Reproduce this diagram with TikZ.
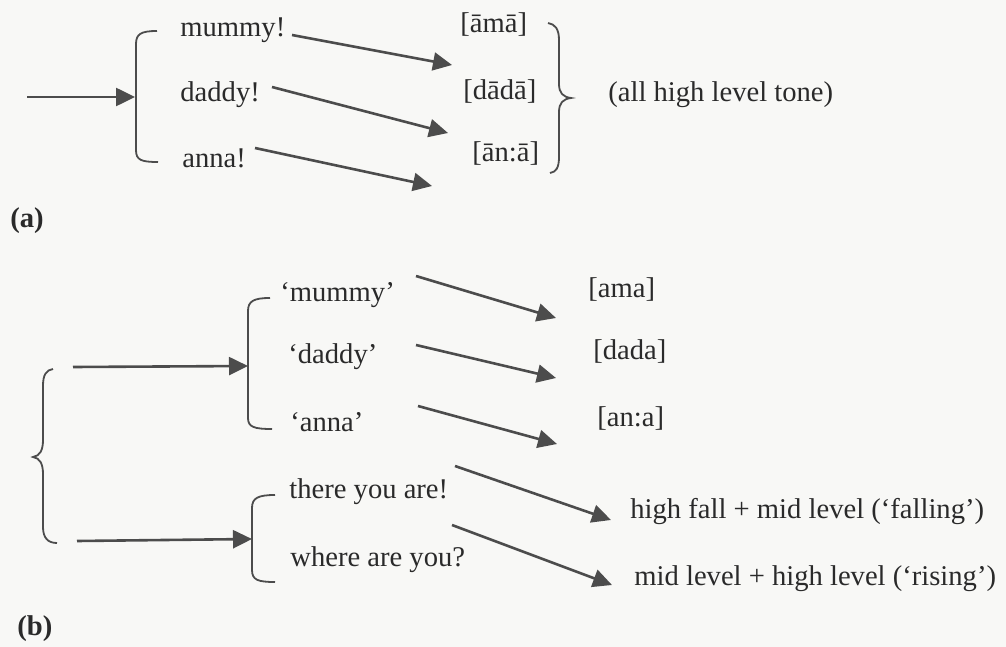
\documentclass[tikz,border=0pt]{standalone}
\usepackage{fontspec}
\setmainfont{Liberation Serif}
\usetikzlibrary{arrows.meta}
\definecolor{ink}{HTML}{2A2A2A}
\definecolor{arrowgray}{HTML}{4C4C4C}
\definecolor{paper}{HTML}{F8F8F6}
\tikzset{
  lbl/.style={anchor=west, inner sep=0pt, text=ink, font=\fontsize{14.3}{17}\selectfont, text height=0.7em, text depth=0.2em},
  tag/.style={lbl, font=\fontsize{14.3}{17}\selectfont\bfseries},
  arr/.style={draw=arrowgray, line width=1.3pt, -{Triangle[length=9.5pt,width=9pt]}, fill=none},
  brk/.style={draw=arrowgray, line width=0.9pt},
}
\begin{document}
\begin{tikzpicture}[x=0.5pt,y=-0.5pt]
\fill[paper] (0,0) rectangle (1006,647);
\useasboundingbox (0,0) rectangle (1006,647);

% ---------------- (a) ----------------
\coordinate (ain) at (27,97);
\coordinate (abr) at (135,97);
\draw[arr] (ain) -- (abr);
\draw[brk] (157,31) .. controls (141,31) and (136,34) .. (136,44) -- (136,150) .. controls (136,160) and (141,162) .. (158,162);

\node[lbl] (m1) at (180,32) {mummy!};
\node[lbl] (d1) at (180,97) {daddy!};
\node[lbl] (n1) at (182,163) {anna!};

\coordinate (m1s) at (292,35);  \coordinate (m1e) at (452,65);
\coordinate (d1s) at (272,87);  \coordinate (d1e) at (448,133);
\coordinate (n1s) at (255,148); \coordinate (n1e) at (432,186);
\draw[arr] (m1s) -- (m1e);
\draw[arr] (d1s) -- (d1e);
\draw[arr] (n1s) -- (n1e);

\node[lbl] (am) at (460,28) {[āmā]};
\node[lbl] (dd) at (463,94) {[dādā]};
\node[lbl] (an) at (472,157) {[ān:ā]};

\draw[brk] (548,23) .. controls (555,24) and (559,29) .. (559,40) -- (559,84) .. controls (559,93) and (563,97) .. (571,98) .. controls (563,99) and (559,103) .. (559,112) -- (559,157) .. controls (559,168) and (556,172) .. (550,173);

\node[lbl] (tone) at (608,97) {(all high level tone)};
\node[tag] (la) at (10,222) {(a)};

% ---------------- (b) ----------------
\draw[brk] (53,369) .. controls (46,370) and (43,375) .. (43,386) -- (43,440) .. controls (43,450) and (40,456) .. (33,457) .. controls (40,458) and (43,464) .. (43,474) -- (43,527) .. controls (43,538) and (48,543) .. (57,543);

\coordinate (t1) at (73,367);  \coordinate (t2) at (248,366);
\coordinate (b1) at (77,541);  \coordinate (b2) at (252,539);
\draw[arr] (t1) -- (t2);
\draw[arr] (b1) -- (b2);

\draw[brk] (270,298) .. controls (254,298) and (248,301) .. (248,311) -- (248,418) .. controls (248,427) and (254,429) .. (272,429);
\draw[brk] (275,495) .. controls (258,495) and (252,498) .. (252,508) -- (252,570) .. controls (252,580) and (258,582) .. (275,582);

\node[lbl] (m2) at (280,296) {‘mummy’};
\node[lbl] (d2) at (288,358) {‘daddy’};
\node[lbl] (n2) at (290,426) {‘anna’};
\node[lbl] (ty) at (289,493) {there you are!};
\node[lbl] (wy) at (290,561) {where are you?};

\coordinate (m2s) at (416,276); \coordinate (m2e) at (556,318);
\coordinate (d2s) at (416,345); \coordinate (d2e) at (556,378);
\coordinate (n2s) at (418,406); \coordinate (n2e) at (557,444);
\coordinate (tys) at (455,466); \coordinate (tye) at (611,520);
\coordinate (wys) at (452,525); \coordinate (wye) at (612,585);
\draw[arr] (m2s) -- (m2e);
\draw[arr] (d2s) -- (d2e);
\draw[arr] (n2s) -- (n2e);
\draw[arr] (tys) -- (tye);
\draw[arr] (wys) -- (wye);

\node[lbl] (ama) at (588,292) {[ama]};
\node[lbl] (dada) at (593,354) {[dada]};
\node[lbl] (ana) at (597,421) {[an:a]};
\node[lbl] (fall) at (630,513) {high fall + mid level (‘falling’)};
\node[lbl] (rise) at (634,580) {mid level + high level (‘rising’)};
\node[tag] (lb) at (17,630) {(b)};
\end{tikzpicture}
\end{document}
